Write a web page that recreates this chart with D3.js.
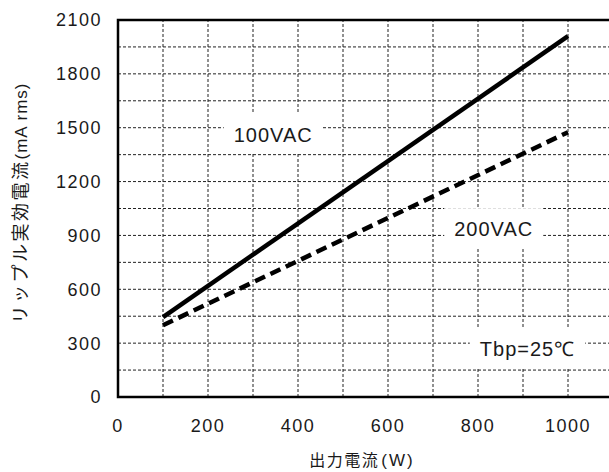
<!DOCTYPE html>
<html>
  <head>
    <meta charset="utf-8">
    <style>
    body {
      margin: 0;
      background: #fff;
    }
    text {
      font-family: "Liberation Sans", Arial, sans-serif;
      fill: #1a1a1a;
    }
    .jp {
      font-family: "Noto Sans CJK JP", sans-serif;
    }
    .grid line {
      stroke: #222;
      stroke-width: 1;
      stroke-dasharray: 3,2;
    }
    </style>
  </head>
  <body>
    <script src="https://d3js.org/d3.v7.min.js"></script>
    <script>
    var width = 609,
      height = 472;

    // data
    var outputW = [100, 1000];
    var ripple100 = [445, 2010];
    var ripple200 = [400, 1475];
    var xTicks = [0, 200, 400, 600, 800, 1000];
    var yTicks = [0, 300, 600, 900, 1200, 1500, 1800, 2100];
    var labels = ["100VAC", "200VAC", "Tbp=25\u2103"];

    var x = d3.scaleLinear().domain([0, 1100]).range([118, 613]);
    var y = d3.scaleLinear().domain([0, 2100]).range([397, 20]);

    var svg = d3.select("body").append("svg")
        .attr("width", width)
        .attr("height", height);

    //grid, every 100 W and 150 mA
    var grid = svg.append("g").attr("class", "grid");
    grid.selectAll(".gx")
      .data(d3.range(100, 1100, 100))
      .enter().append("line")
        .attr("x1", function(d){ return x(d); })
        .attr("x2", function(d){ return x(d); })
        .attr("y1", y(0))
        .attr("y2", y(2100));
    grid.selectAll(".gy")
      .data(d3.range(150, 2100, 150))
      .enter().append("line")
        .attr("x1", x(0))
        .attr("x2", width)
        .attr("y1", function(d){ return y(d); })
        .attr("y2", function(d){ return y(d); });

    // label boxes sit over the grid
    var labelPos = [[345, 1460], [835, 935], [910, 270]];
    var lab = svg.selectAll(".lab")
      .data(labels)
      .enter().append("g")
        .attr("class", "lab");
    lab.append("text")
        .attr("x", function(d, i){ return x(labelPos[i][0]); })
        .attr("y", function(d, i){ return y(labelPos[i][1]); })
        .attr("text-anchor", "middle")
        .attr("dy", "0.35em")
        .style("font-size", "20px")
        .style("letter-spacing", "1px")
        .text(function(d){ return d; });
    lab.insert("rect", "text")
        .attr("fill", "#fff")
        .each(function(){
          var b = this.parentNode.querySelector("text").getBBox();
          d3.select(this)
            .attr("x", b.x - 10)
            .attr("y", b.y - 10)
            .attr("width", b.width + 20)
            .attr("height", b.height + 18);
        });

    // frame: left, bottom, top
    svg.append("path")
        .attr("d", "M" + width + "," + y(2100) + "H" + x(0) + "V" + y(0) + "H" + width)
        .attr("fill", "none")
        .attr("stroke", "#000")
        .attr("stroke-width", 2.5);

    var line = d3.line()
        .x(function(d){ return x(d[0]); })
        .y(function(d){ return y(d[1]); });

    svg.append("path")
        .datum(d3.zip(outputW, ripple100))
        .attr("d", line)
        .attr("fill", "none")
        .attr("stroke", "#000")
        .attr("stroke-width", 4.5);

    svg.append("path")
        .datum(d3.zip(outputW, ripple200))
        .attr("d", line)
        .attr("fill", "none")
        .attr("stroke", "#000")
        .attr("stroke-width", 4.5)
        .attr("stroke-dasharray", "11,6");

    // tick labels
    svg.selectAll(".xt")
      .data(xTicks)
      .enter().append("text")
        .attr("x", function(d){ return x(d); })
        .attr("y", 432)
        .attr("text-anchor", "middle")
        .style("font-size", "18px")
        .style("letter-spacing", "1.5px")
        .text(function(d){ return d; });

    svg.selectAll(".yt")
      .data(yTicks)
      .enter().append("text")
        .attr("x", 102)
        .attr("y", function(d){ return y(d); })
        .attr("dy", "0.36em")
        .attr("text-anchor", "end")
        .style("font-size", "18px")
        .style("letter-spacing", "1.5px")
        .text(function(d){ return d; });

    // axis titles
    var xt = svg.append("text")
        .attr("x", 362)
        .attr("y", 466)
        .attr("text-anchor", "middle")
        .style("font-size", "16px");
    xt.append("tspan").attr("class", "jp")
        .style("letter-spacing", "1.5px")
        .text("出力電流");
    xt.append("tspan")
        .attr("dx", 2)
        .style("font-size", "17px")
        .style("letter-spacing", "2px")
        .text("(W)");

    var yt = svg.append("text")
        .attr("transform", "translate(27,203) rotate(-90)")
        .attr("text-anchor", "middle")
        .style("font-size", "17px");
    yt.append("tspan").attr("class", "jp")
        .style("font-size", "18px")
        .style("letter-spacing", "2.5px")
        .text("リップル実効電流");
    yt.append("tspan")
        .style("letter-spacing", "1px")
        .text("(mA rms)");
    </script>
  </body>
</html>
